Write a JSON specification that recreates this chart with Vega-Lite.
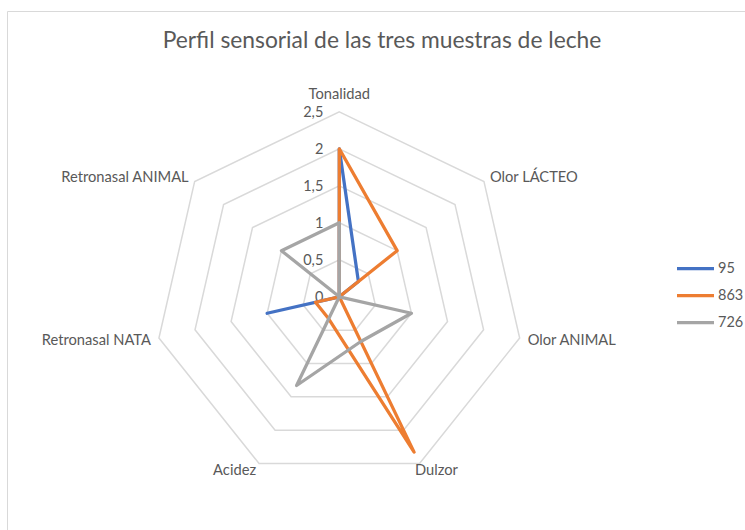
{
  "$schema": "https://vega.github.io/schema/vega-lite/v6.json",
  "width": 738,
  "height": 519,
  "autosize": {"type": "none"},
  "padding": {"left": 7, "top": 11, "right": 0, "bottom": 0},
  "background": "white",
  "config": {"view": {"stroke": "#d9d9d9", "strokeWidth": 1}, "font": "Lato"},
  "title": {
    "text": "Perfil sensorial de las tres muestras de leche",
    "font": "Lato", "fontSize": 22.8, "fontWeight": "normal", "color": "#595959",
    "anchor": "middle", "frame": "group", "orient": "top", "offset": 0,
    "baseline": "middle", "dy": 53, "dx": 6
  },
  "datasets": {
    "valores": [
      {"muestra": "95", "atributo": "Tonalidad", "valor": 2},
      {"muestra": "95", "atributo": "Olor LÁCTEO", "valor": 0.33},
      {"muestra": "95", "atributo": "Olor ANIMAL", "valor": 0},
      {"muestra": "95", "atributo": "Dulzor", "valor": 0},
      {"muestra": "95", "atributo": "Acidez", "valor": 0},
      {"muestra": "95", "atributo": "Retronasal NATA", "valor": 1},
      {"muestra": "95", "atributo": "Retronasal ANIMAL", "valor": 0},
      {"muestra": "863", "atributo": "Tonalidad", "valor": 2},
      {"muestra": "863", "atributo": "Olor LÁCTEO", "valor": 1},
      {"muestra": "863", "atributo": "Olor ANIMAL", "valor": 0},
      {"muestra": "863", "atributo": "Dulzor", "valor": 2.33},
      {"muestra": "863", "atributo": "Acidez", "valor": 0.33},
      {"muestra": "863", "atributo": "Retronasal NATA", "valor": 0.33},
      {"muestra": "863", "atributo": "Retronasal ANIMAL", "valor": 0},
      {"muestra": "726", "atributo": "Tonalidad", "valor": 1},
      {"muestra": "726", "atributo": "Olor LÁCTEO", "valor": 0},
      {"muestra": "726", "atributo": "Olor ANIMAL", "valor": 1},
      {"muestra": "726", "atributo": "Dulzor", "valor": 0.67},
      {"muestra": "726", "atributo": "Acidez", "valor": 1.33},
      {"muestra": "726", "atributo": "Retronasal NATA", "valor": 0},
      {"muestra": "726", "atributo": "Retronasal ANIMAL", "valor": 1}
    ],
    "ejes": [
      {"atributo": "Tonalidad", "i": 0},
      {"atributo": "Olor LÁCTEO", "i": 1},
      {"atributo": "Olor ANIMAL", "i": 2},
      {"atributo": "Dulzor", "i": 3},
      {"atributo": "Acidez", "i": 4},
      {"atributo": "Retronasal NATA", "i": 5},
      {"atributo": "Retronasal ANIMAL", "i": 6}
    ],
    "niveles": [
      {"nivel": 0, "etiqueta": "0", "i": []},
      {"nivel": 0.5, "etiqueta": "0,5", "i": [0, 1, 2, 3, 4, 5, 6]},
      {"nivel": 1, "etiqueta": "1", "i": [0, 1, 2, 3, 4, 5, 6]},
      {"nivel": 1.5, "etiqueta": "1,5", "i": [0, 1, 2, 3, 4, 5, 6]},
      {"nivel": 2, "etiqueta": "2", "i": [0, 1, 2, 3, 4, 5, 6]},
      {"nivel": 2.5, "etiqueta": "2,5", "i": [0, 1, 2, 3, 4, 5, 6]}
    ]
  },
  "encoding": {
    "x": {"field": "x", "type": "quantitative", "scale": {"domain": [-4.4905, 5.4824], "nice": false, "zero": false}, "axis": null},
    "y": {"field": "y", "type": "quantitative", "scale": {"domain": [-3.1514, 3.8622], "nice": false, "zero": false}, "axis": null}
  },
  "layer": [
    {
      "data": {"name": "niveles"},
      "transform": [
        {"flatten": ["i"]},
        {"calculate": "datum.nivel * sin(datum.i * 2 * PI / 7)", "as": "x"},
        {"calculate": "datum.nivel * cos(datum.i * 2 * PI / 7)", "as": "y"}
      ],
      "mark": {"type": "line", "interpolate": "linear-closed", "stroke": "#d9d9d9", "strokeWidth": 1.5},
      "encoding": {
        "detail": {"field": "nivel", "type": "nominal"},
        "order": {"field": "i", "type": "quantitative"}
      }
    },
    {
      "data": {"name": "niveles"},
      "transform": [
        {"calculate": "0", "as": "x"},
        {"calculate": "datum.nivel", "as": "y"}
      ],
      "mark": {"type": "text", "align": "right", "baseline": "middle", "dx": -16, "dy": 1, "fontSize": 14.5, "font": "Lato", "color": "#595959"},
      "encoding": {"text": {"field": "etiqueta", "type": "nominal"}}
    },
    {
      "data": {"name": "valores"},
      "transform": [
        {"lookup": "atributo", "from": {"data": {"name": "ejes"}, "key": "atributo", "fields": ["i"]}},
        {"calculate": "datum.valor * sin(datum.i * 2 * PI / 7)", "as": "x"},
        {"calculate": "datum.valor * cos(datum.i * 2 * PI / 7)", "as": "y"}
      ],
      "mark": {"type": "line", "interpolate": "linear-closed", "strokeWidth": 3.25, "strokeJoin": "round", "strokeCap": "round"},
      "encoding": {
        "color": {
          "field": "muestra", "type": "nominal",
          "scale": {"domain": ["95", "863", "726"], "range": ["#4472c4", "#ed7d31", "#a5a5a5"]},
          "legend": {
            "title": null, "orient": "none", "legendX": 668, "legendY": 237, "padding": 0,
            "symbolType": "stroke", "symbolSize": 1369, "symbolStrokeWidth": 3.25,
            "labelFont": "Lato", "labelFontSize": 14.5, "labelColor": "#595959", "labelOffset": 2,
            "rowPadding": -4.5
          }
        },
        "order": {"field": "i", "type": "quantitative"}
      }
    },
    {
      "data": {"name": "ejes"},
      "transform": [
        {"filter": "datum.i == 0"},
        {"calculate": "2.5 * sin(datum.i * 2 * PI / 7)", "as": "x"},
        {"calculate": "2.5 * cos(datum.i * 2 * PI / 7)", "as": "y"}
      ],
      "mark": {"type": "text", "align": "center", "baseline": "alphabetic", "dy": -13, "fontSize": 14.7, "font": "Lato", "color": "#595959"},
      "encoding": {"text": {"field": "atributo", "type": "nominal"}}
    },
    {
      "data": {"name": "ejes"},
      "transform": [
        {"filter": "datum.i == 1"},
        {"calculate": "2.5 * sin(datum.i * 2 * PI / 7)", "as": "x"},
        {"calculate": "2.5 * cos(datum.i * 2 * PI / 7)", "as": "y"}
      ],
      "mark": {"type": "text", "align": "left", "baseline": "alphabetic", "dx": 6, "dy": 1, "fontSize": 14.7, "font": "Lato", "color": "#595959"},
      "encoding": {"text": {"field": "atributo", "type": "nominal"}}
    },
    {
      "data": {"name": "ejes"},
      "transform": [
        {"filter": "datum.i == 2"},
        {"calculate": "2.5 * sin(datum.i * 2 * PI / 7)", "as": "x"},
        {"calculate": "2.5 * cos(datum.i * 2 * PI / 7)", "as": "y"}
      ],
      "mark": {"type": "text", "align": "left", "baseline": "alphabetic", "dx": 8, "dy": 7, "fontSize": 14.7, "font": "Lato", "color": "#595959"},
      "encoding": {"text": {"field": "atributo", "type": "nominal"}}
    },
    {
      "data": {"name": "ejes"},
      "transform": [
        {"filter": "datum.i == 3"},
        {"calculate": "2.5 * sin(datum.i * 2 * PI / 7)", "as": "x"},
        {"calculate": "2.5 * cos(datum.i * 2 * PI / 7)", "as": "y"}
      ],
      "mark": {"type": "text", "align": "left", "baseline": "alphabetic", "dx": -4.5, "dy": 11.5, "fontSize": 14.7, "font": "Lato", "color": "#595959"},
      "encoding": {"text": {"field": "atributo", "type": "nominal"}}
    },
    {
      "data": {"name": "ejes"},
      "transform": [
        {"filter": "datum.i == 4"},
        {"calculate": "2.5 * sin(datum.i * 2 * PI / 7)", "as": "x"},
        {"calculate": "2.5 * cos(datum.i * 2 * PI / 7)", "as": "y"}
      ],
      "mark": {"type": "text", "align": "right", "baseline": "alphabetic", "dx": -3, "dy": 11.5, "fontSize": 14.7, "font": "Lato", "color": "#595959"},
      "encoding": {"text": {"field": "atributo", "type": "nominal"}}
    },
    {
      "data": {"name": "ejes"},
      "transform": [
        {"filter": "datum.i == 5"},
        {"calculate": "2.5 * sin(datum.i * 2 * PI / 7)", "as": "x"},
        {"calculate": "2.5 * cos(datum.i * 2 * PI / 7)", "as": "y"}
      ],
      "mark": {"type": "text", "align": "right", "baseline": "alphabetic", "dx": -8, "dy": 7, "fontSize": 14.7, "font": "Lato", "color": "#595959"},
      "encoding": {"text": {"field": "atributo", "type": "nominal"}}
    },
    {
      "data": {"name": "ejes"},
      "transform": [
        {"filter": "datum.i == 6"},
        {"calculate": "2.5 * sin(datum.i * 2 * PI / 7)", "as": "x"},
        {"calculate": "2.5 * cos(datum.i * 2 * PI / 7)", "as": "y"}
      ],
      "mark": {"type": "text", "align": "right", "baseline": "alphabetic", "dx": -6, "dy": 1, "fontSize": 14.7, "font": "Lato", "color": "#595959"},
      "encoding": {"text": {"field": "atributo", "type": "nominal"}}
    }
  ]
}
